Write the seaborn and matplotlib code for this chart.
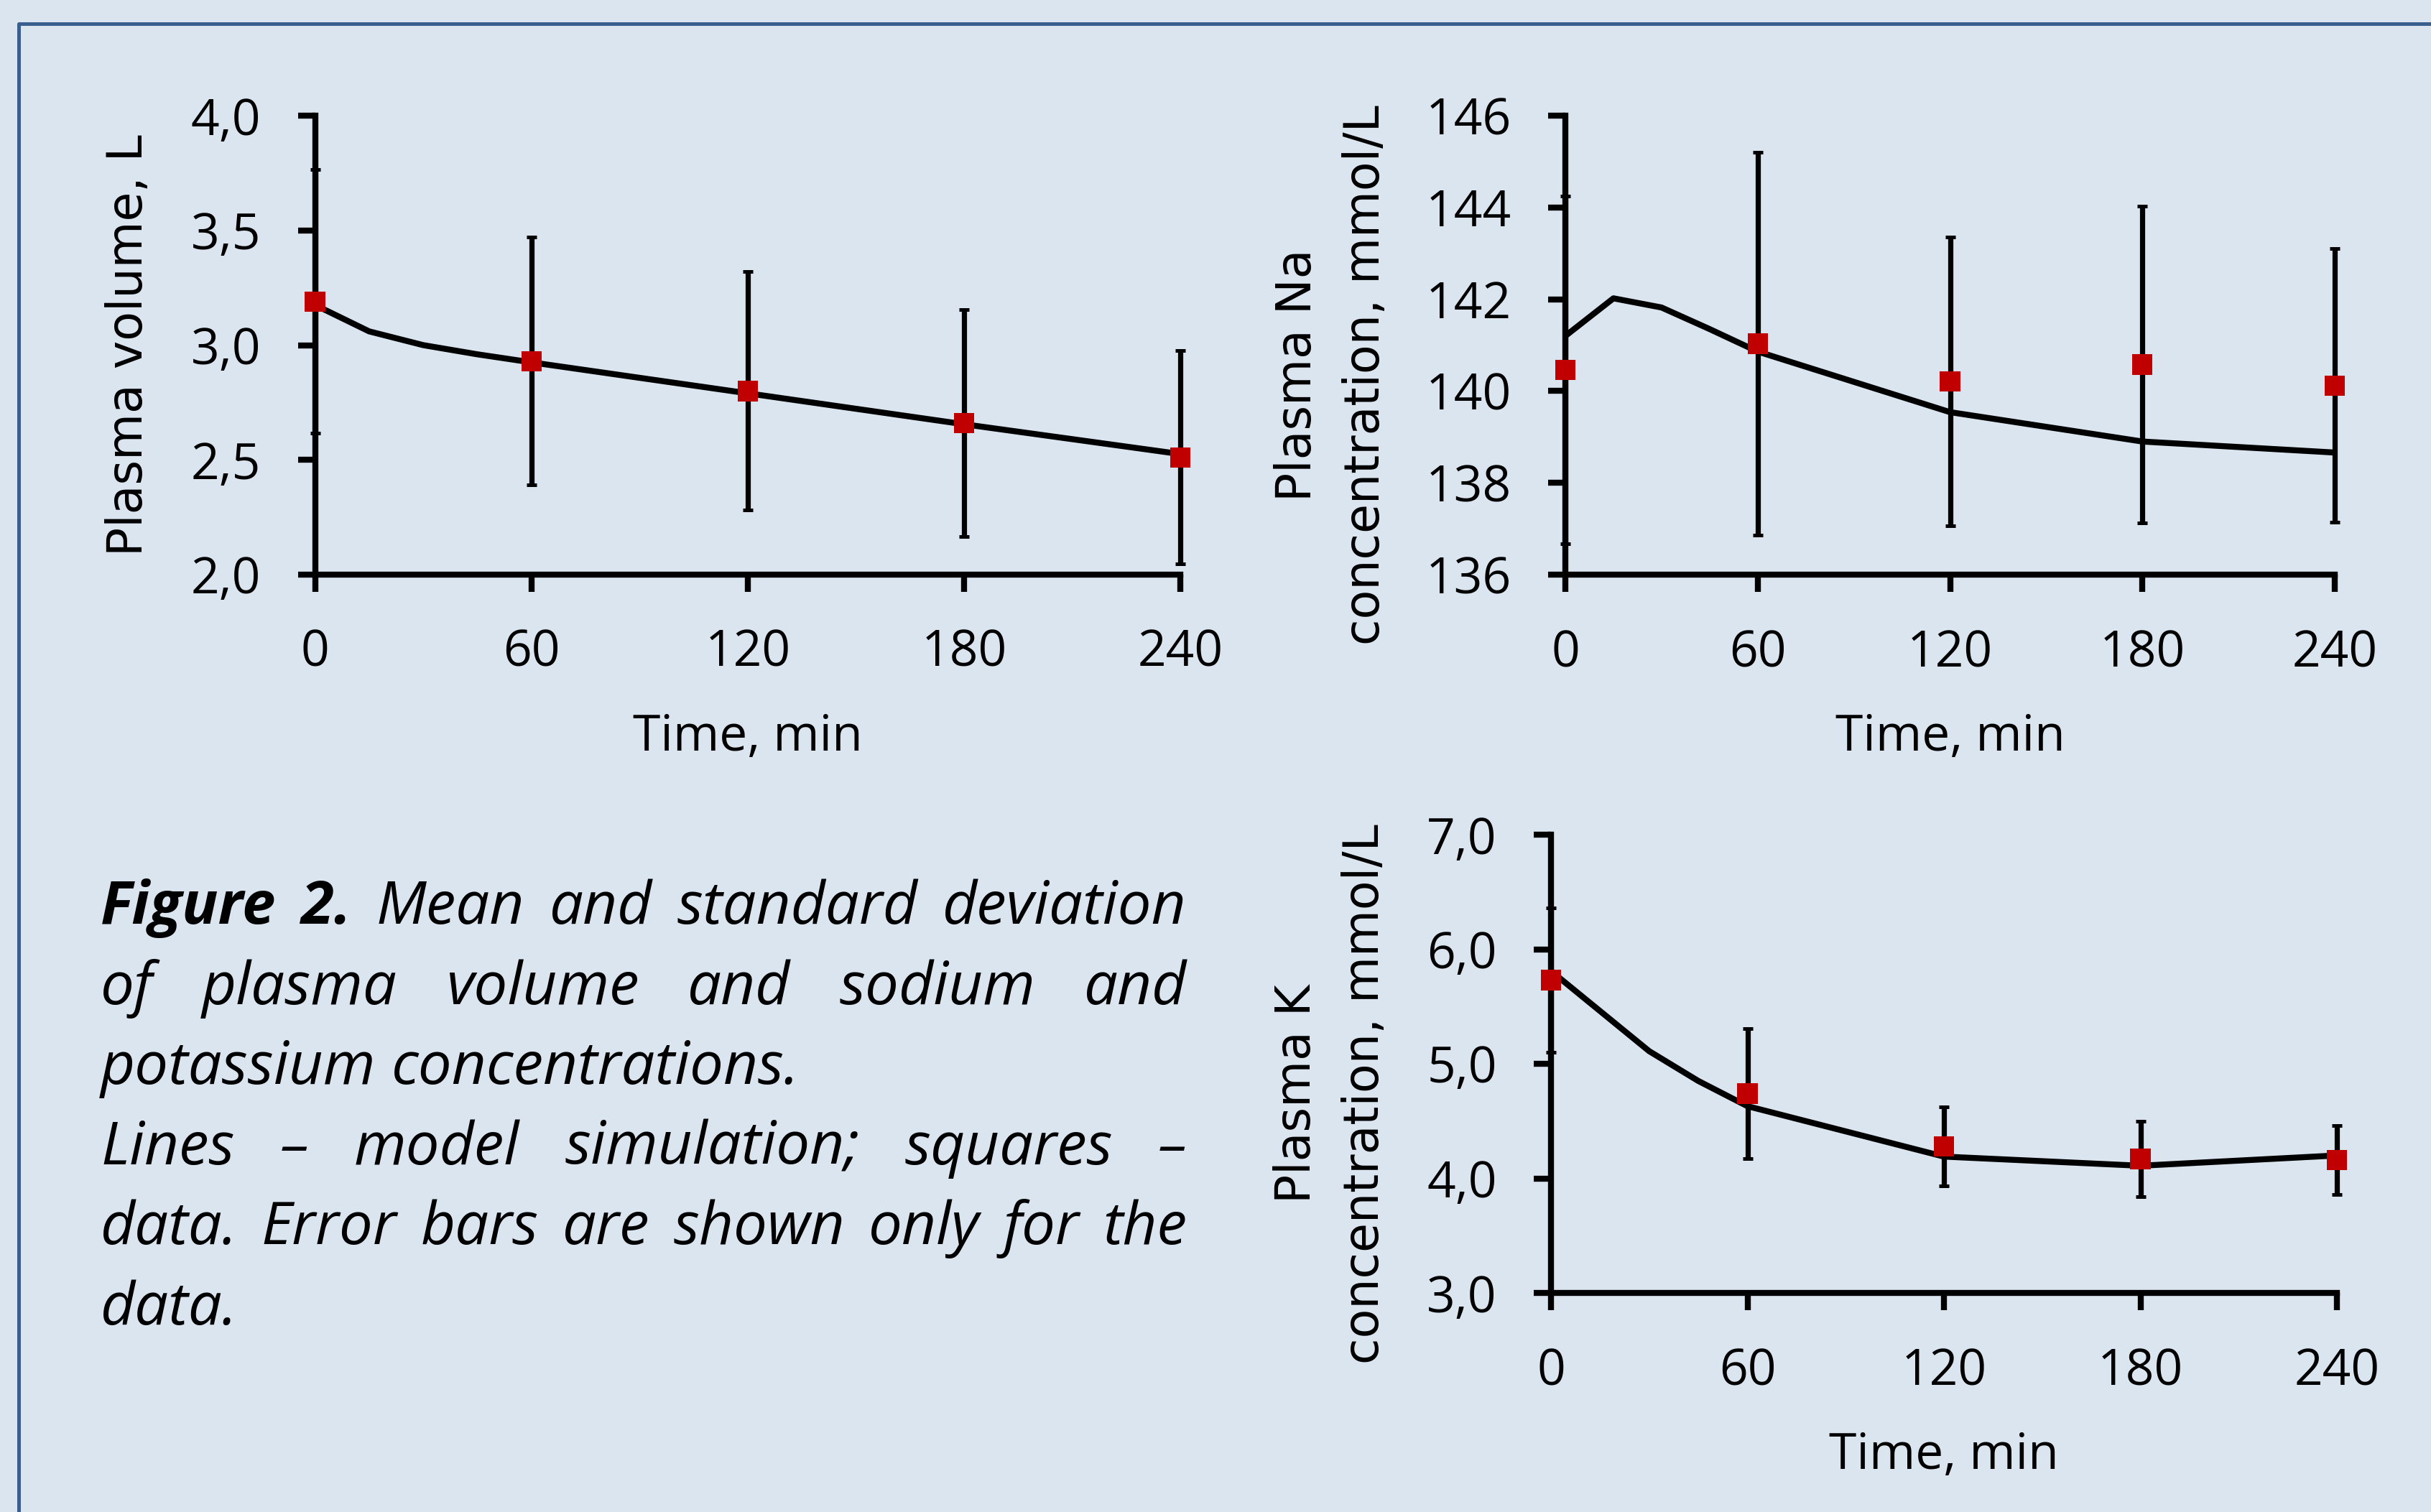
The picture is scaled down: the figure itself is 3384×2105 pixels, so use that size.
import matplotlib
matplotlib.use('Agg')
import matplotlib.pyplot as plt
import seaborn as sns
from matplotlib.lines import Line2D

# measured time points (min) and model output times
time_pts = [0, 60, 120, 180, 240]
model_t = [0, 15, 30, 45, 60, 120, 180, 240]

# plasma volume, L
pv_mean = [3.19, 2.93, 2.80, 2.66, 2.51]
pv_sd = [0.575, 0.54, 0.52, 0.495, 0.465]
pv_model = [3.175, 3.06, 3.00, 2.96, 2.925, 2.79, 2.655, 2.525]

# plasma Na, mmol/L
na_mean = [140.46, 141.03, 140.21, 140.58, 140.12]
na_sd = [3.78, 4.17, 3.15, 3.45, 2.98]
na_model = [141.2, 142.02, 141.82, 141.35, 140.86, 139.54, 138.9, 138.66]

# plasma K, mmol/L
k_mean = [5.73, 4.74, 4.28, 4.17, 4.16]
k_sd = [0.63, 0.57, 0.345, 0.33, 0.30]
k_model = [5.81, 5.46, 5.11, 4.85, 4.63, 4.19, 4.11, 4.20]

x_ticks = [0, 60, 120, 180, 240]
x_tick_labels = ['0', '60', '120', '180', '240']
pv_ticks = [2.0, 2.5, 3.0, 3.5, 4.0]
pv_tick_labels = ['2,0', '2,5', '3,0', '3,5', '4,0']
na_ticks = [136, 138, 140, 142, 144, 146]
na_tick_labels = ['136', '138', '140', '142', '144', '146']
k_ticks = [3.0, 4.0, 5.0, 6.0, 7.0]
k_tick_labels = ['3,0', '4,0', '5,0', '6,0', '7,0']

caption_lines = [
    [('Figure', True), ('2.', True), ('Mean', False), ('and', False), ('standard', False), ('deviation', False)],
    [(w, False) for w in 'of plasma volume and sodium and'.split()],
    [(w, False) for w in 'potassium concentrations.'.split()],
    [(w, False) for w in 'Lines – model simulation; squares –'.split()],
    [(w, False) for w in 'data. Error bars are shown only for the'.split()],
    [(w, False) for w in 'data.'.split()],
]
caption_justify = [True, True, False, True, True, False]

BG = '#DAE5F0'
RED = '#C00000'
W, H = 3384, 2105

sns.set_theme(style='ticks')
plt.rcParams['font.family'] = ['Open Sans', 'DejaVu Sans']
plt.rcParams['axes.linewidth'] = 3.0

fig = plt.figure(figsize=(W / 200, H / 200), dpi=200, facecolor=BG)


def make_axes(l, t, r, b):
    return fig.add_axes([l / W, 1 - b / H, (r - l) / W, (b - t) / H])


def draw_panel(ax, mean, sd, model, yticks, ylabels, ylim, ylabel, label_xy):
    ax.set_facecolor('none')
    ax.errorbar(time_pts, mean, yerr=sd, fmt='none', ecolor='black',
                elinewidth=2.6, capsize=2.6, capthick=1.8, zorder=2)
    for art in ax.get_children():
        if hasattr(art, 'set_clip_on'):
            art.set_clip_on(False)
    sns.lineplot(x=model_t, y=model, ax=ax, color='black', linewidth=3.0, zorder=3)
    sns.scatterplot(x=time_pts, y=mean, ax=ax, marker='s', s=104, color=RED,
                    edgecolor='none', linewidth=0, zorder=5, clip_on=False)
    ax.set_xlim(0, 240)
    ax.set_ylim(*ylim)
    ax.set_xticks(x_ticks)
    ax.set_xticklabels(x_tick_labels)
    ax.set_yticks(yticks)
    ax.set_yticklabels(ylabels)
    ax.tick_params(direction='out', length=8.6, width=3.0, labelsize=25,
                   pad=18.5, colors='black')
    sns.despine(ax=ax)
    for sp in ax.spines.values():
        sp.set_color('black')
        sp.set_linewidth(3.0)
    ax.set_xlabel('Time, min', fontsize=25, labelpad=17, color='black')
    ax.set_ylabel(ylabel, fontsize=24, family='DejaVu Sans', color='black',
                  linespacing=1.55)
    ax.yaxis.label.set(rotation_mode='default', ha='center', va='center',
                       multialignment='center')
    ax.yaxis.set_label_coords(*label_xy)


ax1 = make_axes(438.6, 161.3, 1642.9, 799.7)
draw_panel(ax1, pv_mean, pv_sd, pv_model, pv_ticks, pv_tick_labels, (2, 4),
           'Plasma volume, L', (-0.2156, 0.5))

ax2 = make_axes(2179, 161, 3250, 800)
draw_panel(ax2, na_mean, na_sd, na_model, na_ticks, na_tick_labels, (136, 146),
           'Plasma Na\nconcentration, mmol/L', (-0.304, 0.435))

ax3 = make_axes(2159, 1162, 3253, 1800)
draw_panel(ax3, k_mean, k_sd, k_model, k_ticks, k_tick_labels, (3, 7),
           'Plasma K\nconcentration, mmol/L', (-0.28, 0.434))

# frame line along the top and left edge
bx, by = 25.5 / W, 1 - 32.5 / H
fig.add_artist(Line2D([bx, bx, 1.0], [0.0, by, by], transform=fig.transFigure,
                      color='#3A5F8E', linewidth=1.8, solid_joinstyle='round'))

# justified caption
renderer = fig.canvas.get_renderer()
cap_left, cap_right = 140, 1652
baseline0, step = 1286, 111.6


def word_widths(size):
    out = []
    for line in caption_lines:
        ws = []
        for w, bold in line:
            t = fig.text(0, 0, w, fontsize=size, style='italic',
                         weight='bold' if bold else 'normal')
            ws.append(t.get_window_extent(renderer).width)
            t.remove()
        out.append(ws)
    sp = fig.text(0, 0, 'a a', fontsize=size, style='italic')
    sa = fig.text(0, 0, 'aa', fontsize=size, style='italic')
    space = sp.get_window_extent(renderer).width - sa.get_window_extent(renderer).width
    sp.remove()
    sa.remove()
    return out, space


cap_size = 30
widths, space_w = word_widths(cap_size)
natural = max(sum(ws) + space_w * (len(ws) - 1) for ws in widths)
if natural > (cap_right - cap_left):
    cap_size = cap_size * (cap_right - cap_left) / natural * 0.99
    widths, space_w = word_widths(cap_size)

for i, line in enumerate(caption_lines):
    ws = widths[i]
    if caption_justify[i] and len(ws) > 1:
        gap = (cap_right - cap_left - sum(ws)) / (len(ws) - 1)
    else:
        gap = space_w
    x = cap_left
    y = baseline0 + i * step
    for (w, bold), wd in zip(line, ws):
        fig.text(x / W, 1 - y / H, w, fontsize=cap_size, style='italic',
                 weight='bold' if bold else 'normal', va='baseline', ha='left',
                 color='black')
        x += wd + gap

fig.savefig('out.png', dpi=200, facecolor=BG)
